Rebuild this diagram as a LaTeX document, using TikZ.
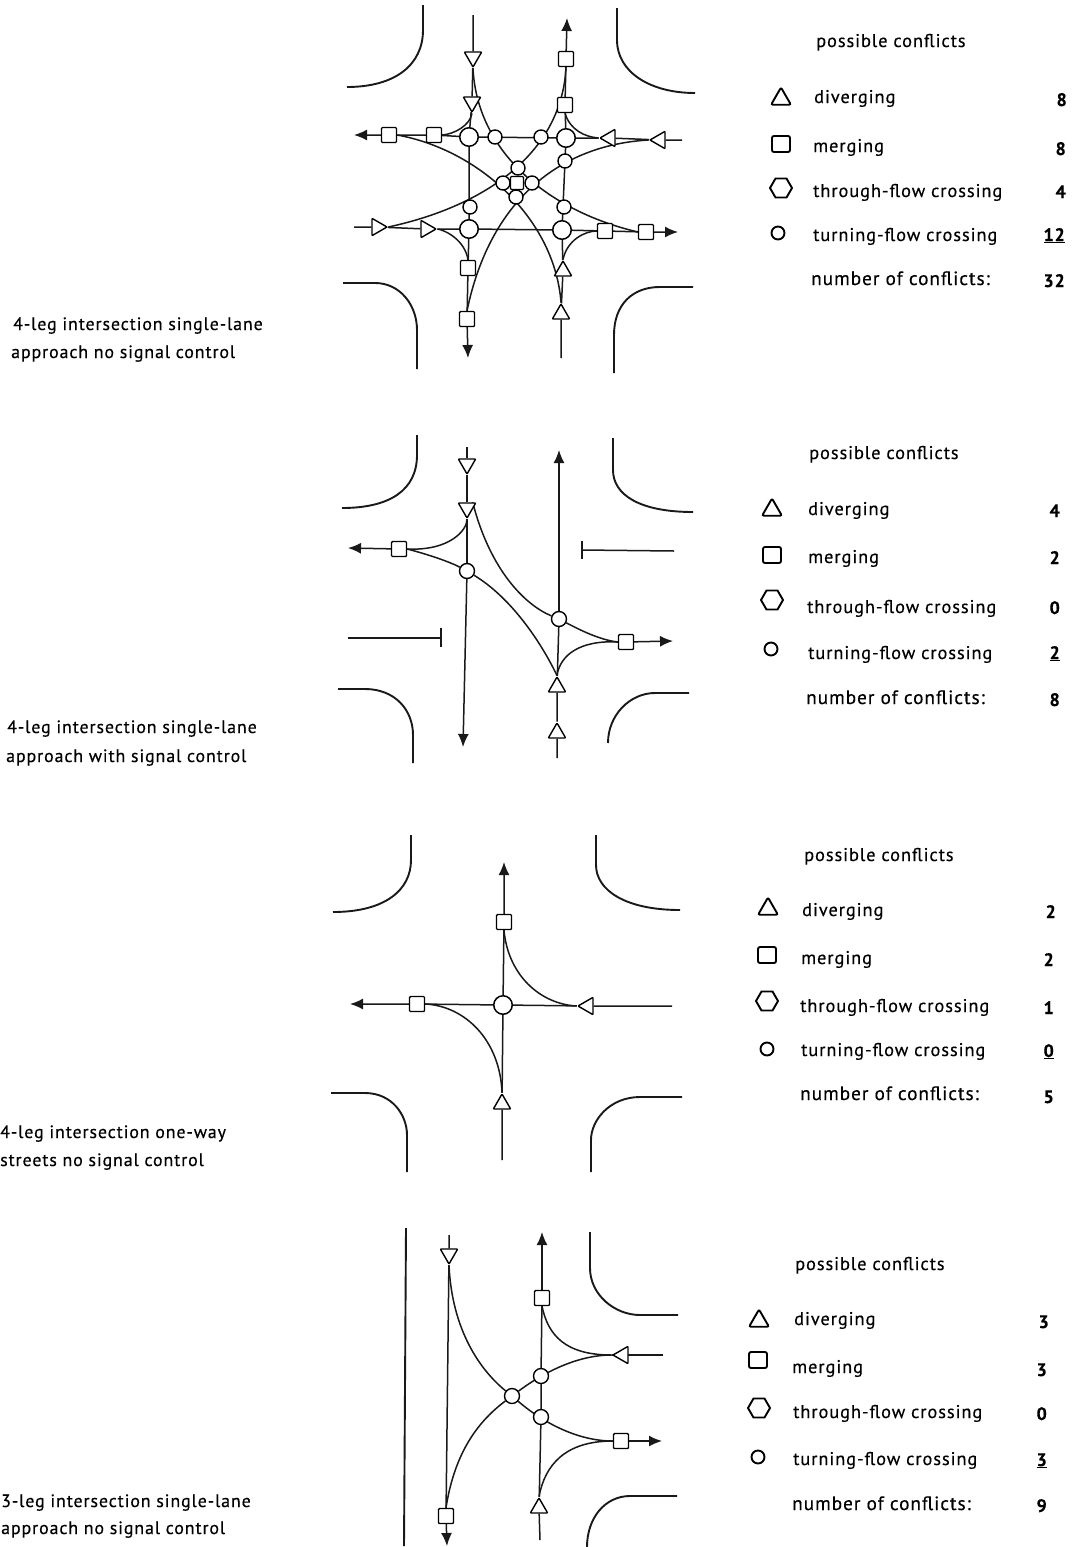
\documentclass[tikz,border=0pt]{standalone}
\usepackage{fontspec}
\setmainfont[LetterSpace=5,FakeBold=0.35]{PT Sans}
\usetikzlibrary{arrows.meta,shapes.geometric,backgrounds}
\tikzset{
 x=1pt,y=-1pt,
 road/.style={line width=1.9pt,black!90},
 flow/.style={line width=1.5pt,black!90},
 arr/.style={flow,-{Latex[length=13pt,width=11pt]}},
 cs/.style={circle,draw,fill=white,line width=1.4pt,minimum size=14pt,inner sep=0pt},
 cb/.style={circle,draw,fill=white,line width=1.5pt,minimum size=18.5pt,inner sep=0pt},
 sq/.style={rectangle,rounded corners=1pt,draw,fill=white,line width=1.4pt,minimum size=15pt,inner sep=0pt},
 tri/.style={regular polygon,regular polygon sides=3,draw,fill=white,line width=1.4pt,minimum size=20pt,inner sep=0pt,rounded corners=.8pt},
 tu/.style={tri},
 td/.style={tri,shape border rotate=180},
 tl/.style={tri,shape border rotate=90},
 tr/.style={tri,shape border rotate=270},
 ltri/.style={tri,minimum size=23pt,line width=1.9pt,rounded corners=2pt,fill=none},
 lsq/.style={rectangle,rounded corners=2pt,draw,line width=1.9pt,minimum width=18pt,minimum height=16pt,inner sep=0pt},
 lhex/.style={regular polygon,regular polygon sides=6,draw,line width=1.9pt,minimum size=22pt,inner sep=0pt},
 lcirc/.style={circle,draw,line width=1.9pt,minimum size=13pt,inner sep=0pt},
 txt/.style={anchor=base west,inner sep=0pt,font=\fontsize{18.4}{20}\selectfont},
 ntxt/.style={anchor=base west,inner sep=0pt,font=\fontsize{19.3}{20}\selectfont},
 captxt/.style={anchor=base west,inner sep=0pt,font=\fontsize{17.9}{20}\selectfont},
 num/.style={anchor=base east,inner sep=0pt,font=\fontsize{18}{20}\selectfont\bfseries},
}
\begin{document}
\begin{tikzpicture}
\useasboundingbox (0,0) rectangle (1079,1547);
\begin{scope}[on background layer]
\fill[white] (0,0) rectangle (1079,1547);
\end{scope}

% ---------- panel 1
\node[td] (a1) at (473,57) {}; \node[td] (a2) at (472,102) {};
\node[cb] (a3) at (469,137) {}; \node[cb] (a4) at (566,138) {};
\node[cb] (a5) at (469,229) {}; \node[cb] (a6) at (562,230) {};
\node[cs] (a7) at (495,137) {}; \node[cs] (a8) at (541,137) {};
\node[cs] (a9) at (565,161) {}; \node[cs] (a10) at (564,207) {};
\node[cs] (a11) at (470,207) {};
\node[sq,minimum size=13pt] (a12) at (517,183) {};
\node[cs] (a13) at (518,168) {}; \node[cs] (a14) at (503,183) {};
\node[cs] (a15) at (532,183) {}; \node[cs] (a16) at (516,197) {};
\node[sq] (a17) at (389,135) {}; \node[sq] (a18) at (434,135) {};
\node[sq] (a19) at (566,59) {}; \node[sq] (a20) at (565,105) {};
\node[sq] (a21) at (468,268) {}; \node[sq] (a22) at (467,319) {};
\node[sq] (a23) at (605,231) {}; \node[sq] (a24) at (646,232) {};
\node[tl] (a25) at (610,138) {}; \node[tl] (a26) at (660,140) {};
\node[tr] (a27) at (377,227) {}; \node[tr] (a28) at (426,229) {};
\node[tu] (a29) at (563,271) {}; \node[tu] (a30) at (561,314) {};
\coordinate (an) at (473,15); \coordinate (as) at (561,358);
\coordinate (ae) at (682,140); \coordinate (aw) at (354,227);
\coordinate (anx) at (567,18); \coordinate (asx) at (468,358);
\coordinate (aex) at (678,232); \coordinate (awx) at (354,135);
\begin{scope}[on background layer]
\draw[flow] (an) -- (a1) -- (a2) -- (a3) -- (a5);
\draw[flow] (as) -- (a30) -- (a29) -- (a6) -- (a4);
\draw[flow] (ae) -- (a26) -- (a25) -- (a4) -- (a3);
\draw[flow] (aw) -- (a27) -- (a28) -- (a5) -- (a6);
\draw[arr] (a5) -- (a21) -- (a22) -- (asx);
\draw[arr] (a4) -- (a20) -- (a19) -- (anx);
\draw[arr] (a6) -- (a23) -- (a24) -- (aex);
\draw[arr] (a3) -- (a18) -- (a17) -- (awx);
\draw[flow] (a1.south) .. controls (477,150) and (545,210) .. (a24.west);
\draw[flow] (a19.south) .. controls (562,150) and (490,205) .. (a27.east);
\draw[flow] (a26.west) .. controls (560,145) and (490,200) .. (a22.north);
\draw[flow] (a30.north) .. controls (555,220) and (480,150) .. (a17.east);
\draw[flow] (a2.south) .. controls (470,125) and (455,134) .. (a18.east);
\draw[flow] (a28.east) .. controls (445,230) and (465,240) .. (a21.north);
\draw[flow] (a29.north) .. controls (567,240) and (585,231) .. (a23.west);
\draw[flow] (a25.west) .. controls (585,137) and (570,130) .. (a20.south);
\end{scope}
\draw[road] (423,5) -- (423,30) .. controls (423,65) and (395,87) .. (347,87);
\draw[road] (617,8) -- (617,40) .. controls (617,72) and (650,93) .. (695,93);
\draw[road] (343,283) -- (375,283) .. controls (400,283) and (417,305) .. (417,330) -- (417,369);
\draw[road] (693,287) -- (660,287) .. controls (632,287) and (614,305) .. (614,335) -- (614,373);

% ---------- panel 2
\node[td] (b1) at (467,464) {}; \node[td] (b2) at (467,508) {};
\node[cs,minimum size=15pt] (b3) at (467,571) {}; \node[cs,minimum size=15pt] (b4) at (559,619) {};
\node[sq] (b5) at (399,549) {}; \node[sq] (b6) at (626,642) {};
\node[tu] (b7) at (557,733) {}; \node[tu] (b8) at (557,687) {};
\coordinate (bn) at (467,447); \coordinate (bsx) at (463,747);
\coordinate (bs) at (557,758); \coordinate (bnx) at (559,450);
\coordinate (bwx) at (348,548); \coordinate (bex) at (673,641);
\begin{scope}[on background layer]
\draw[flow] (bn) -- (b1) -- (b2) -- (b3);
\draw[arr] (b3) -- (bsx);
\draw[flow] (bs) -- (b7) -- (b8) -- (b4);
\draw[arr] (b4) -- (bnx);
\draw[arr] (b5) -- (bwx);
\draw[arr] (b6) -- (bex);
\draw[flow] (b2.south) .. controls (467,530) and (450,551) .. (b5.east);
\draw[flow] (b5.east) .. controls (430,555) and (450,562) .. (b3);
\draw[flow] (b3) .. controls (510,597) and (540,640) .. (b8.north);
\draw[flow] (b2.north east) .. controls (490,570) and (525,605) .. (b4);
\draw[flow] (b4) .. controls (580,630) and (600,640) .. (b6.west);
\draw[flow] (b8.north) .. controls (560,655) and (580,640) .. (b6.west);
\end{scope}
\coordinate (bs1) at (582,550); \coordinate (bs2) at (674,551);
\coordinate (bs3) at (348,638); \coordinate (bs4) at (441,638);
\coordinate (bt1) at (582,541); \coordinate (bt2) at (582,559);
\coordinate (bt3) at (441,628); \coordinate (bt4) at (441,647);
\draw[flow] (bs2) -- (bs1);
\draw[flow] (bt1) -- (bt2);
\draw[flow] (bs3) -- (bs4);
\draw[flow] (bt3) -- (bt4);
\draw[road] (417,435) -- (417,455) .. controls (417,490) and (390,508) .. (342,508);
\draw[road] (613,438) -- (613,470) .. controls (613,495) and (640,512) .. (693,512);
\draw[road] (338,689) -- (365,689) .. controls (395,689) and (413,710) .. (413,735) -- (413,763);
\draw[road] (689,693) -- (655,693) .. controls (630,693) and (608,715) .. (608,743);

% ---------- panel 3
\node[cb] (c1) at (503,1005) {};
\node[sq] (c2) at (504,922) {}; \node[sq] (c3) at (417,1004) {};
\node[tu] (c4) at (502,1104) {}; \node[tl] (c5) at (588,1006) {};
\coordinate (cs0) at (502,1160); \coordinate (cnx) at (504,862);
\coordinate (ce0) at (672,1006); \coordinate (cwx) at (350,1004);
\begin{scope}[on background layer]
\draw[flow] (cs0) -- (c4) -- (c1);
\draw[arr] (c1) -- (c2) -- (cnx);
\draw[flow] (ce0) -- (c5) -- (c1);
\draw[arr] (c1) -- (c3) -- (cwx);
\draw[flow] (c2.south) .. controls (508,975) and (540,1004) .. (c5.west);
\draw[flow] (c3.east) .. controls (465,1006) and (500,1040) .. (c4.north);
\end{scope}
\draw[road] (411,835) -- (411,860) .. controls (411,890) and (385,912) .. (333,912);
\draw[road] (596,835) -- (596,865) .. controls (596,890) and (625,910) .. (680,910);
\draw[road] (331,1093) -- (365,1093) .. controls (392,1093) and (407,1115) .. (407,1135) -- (407,1172);
\draw[road] (682,1097) -- (640,1097) .. controls (610,1097) and (591,1120) .. (591,1140) -- (591,1172);

% ---------- panel 4
\node[td] (d1) at (449,1254) {}; \node[sq] (d2) at (446,1516) {};
\node[tu] (d3) at (539,1508) {}; \node[sq] (d4) at (542,1298) {};
\node[cs,minimum size=15pt] (d5) at (541,1376) {}; \node[cs,minimum size=15pt] (d6) at (541,1417) {};
\node[cs,minimum size=15pt] (d7) at (512,1396) {};
\node[tl] (d8) at (623,1355) {}; \node[sq] (d9) at (621,1441) {};
\coordinate (dn) at (449,1235); \coordinate (dsx) at (447,1546);
\coordinate (ds) at (540,1540); \coordinate (dnx) at (542,1232);
\coordinate (de) at (663,1355); \coordinate (dex) at (662,1441);
\begin{scope}[on background layer]
\draw[flow] (dn) -- (d1) -- (d2);
\draw[arr] (d2) -- (dsx);
\draw[flow] (ds) -- (d3) -- (d6) -- (d5) -- (d4);
\draw[arr] (d4) -- (dnx);
\draw[flow] (de) -- (d8.west);
\draw[arr] (d9) -- (dex);
\draw[flow] (d1.south) .. controls (452,1330) and (480,1370) .. (d7);
\draw[flow] (d7) .. controls (540,1420) and (575,1441) .. (d9.west);
\draw[flow] (d2.north) .. controls (455,1450) and (480,1420) .. (d7);
\draw[flow] (d7) .. controls (540,1375) and (575,1355) .. (d8.west);
\draw[flow] (d4.south) .. controls (548,1335) and (565,1355) .. (d8.west);
\draw[flow] (d3.north) .. controls (545,1465) and (565,1441) .. (d9.west);
\end{scope}
\draw[road] (406,1228) -- (404,1546);
\draw[road] (590,1232) -- (590,1268) .. controls (590,1295) and (615,1315) .. (640,1315) -- (678,1315);
\draw[road] (677,1496) -- (630,1496) .. controls (605,1496) and (587,1518) .. (587,1547);

% ---------- tables
\node[txt] (ph1) at (816,47) {possible conflicts};
\node[ltri] (li1) at (781,99) {}; \node[txt] (ld1) at (814,103) {diverging}; \node[num] (ln1) at (1067,106) {8};
\node[lsq] (li2) at (781,144) {}; \node[txt] (lm1) at (813,152) {merging}; \node[num] (lo1) at (1066,155) {8};
\node[lhex] (li3) at (781,188) {}; \node[txt] (lt1) at (813,197) {through-flow crossing}; \node[num] (lp1) at (1066,198) {4};
\node[lcirc] (li4) at (778,233) {}; \node[txt] (lu1) at (813,241) {turning-flow crossing}; \node[num] (lq1) at (1065,241) {\underline{12}};
\node[ntxt] (lv1) at (811,285) {number of conflicts:}; \node[num] (lr1) at (1065,287) {32};

\node[txt] (ph2) at (809,459) {possible conflicts};
\node[ltri] (li5) at (772,510) {}; \node[txt] (ld2) at (808,515) {diverging}; \node[num] (ln2) at (1060,517) {4};
\node[lsq] (li6) at (772,555) {}; \node[txt] (lm2) at (808,563) {merging}; \node[num] (lo2) at (1060,564) {2};
\node[lhex] (li7) at (772,600) {}; \node[txt] (lt2) at (807,613) {through-flow crossing}; \node[num] (lp2) at (1060,614) {0};
\node[lcirc] (li8) at (771,649) {}; \node[txt] (lu2) at (808,659) {turning-flow crossing}; \node[num] (lq2) at (1060,659) {\underline{2}};
\node[ntxt] (lv2) at (806,704) {number of conflicts:}; \node[num] (lr2) at (1060,706) {8};

\node[txt] (ph3) at (804,861) {possible conflicts};
\node[ltri] (li9) at (768,909) {}; \node[txt] (ld3) at (802,916) {diverging}; \node[num] (ln3) at (1056,918) {2};
\node[lsq] (li10) at (767,955) {}; \node[txt] (lm3) at (801,964) {merging}; \node[num] (lo3) at (1054,966) {2};
\node[lhex] (li11) at (767,1001) {}; \node[txt] (lt3) at (800,1012) {through-flow crossing}; \node[num] (lp3) at (1054,1014) {1};
\node[lcirc] (li12) at (767,1049) {}; \node[txt] (lu3) at (801,1056) {turning-flow crossing}; \node[num] (lq3) at (1054,1057) {\underline{0}};
\node[ntxt] (lv3) at (800,1100) {number of conflicts:}; \node[num] (lr3) at (1054,1103) {5};

\node[txt] (ph4) at (795,1270) {possible conflicts};
\node[ltri] (li13) at (759,1321) {}; \node[txt] (ld4) at (794,1325) {diverging}; \node[num] (ln4) at (1049,1328) {3};
\node[lsq] (li14) at (758,1360) {}; \node[txt] (lm4) at (792,1373) {merging}; \node[num] (lo4) at (1047,1376) {3};
\node[lhex] (li15) at (759,1408) {}; \node[txt] (lt4) at (793,1418) {through-flow crossing}; \node[num] (lp4) at (1047,1420) {0};
\node[lcirc] (li16) at (758,1457) {}; \node[txt] (lu4) at (793,1465) {turning-flow crossing}; \node[num] (lq4) at (1047,1466) {\underline{3}};
\node[ntxt] (lv4) at (792,1510) {number of conflicts:}; \node[num] (lr4) at (1047,1512) {9};

% ---------- side captions
\node[captxt] (s1a) at (13,330) {4-leg intersection single-lane};
\node[captxt] (s1b) at (11,358) {approach no signal control};
\node[captxt] (s2a) at (7,733) {4-leg intersection single-lane};
\node[captxt] (s2b) at (6,762) {approach with signal control};
\node[captxt] (s3a) at (0,1138) {4-leg intersection one-way};
\node[captxt] (s3b) at (0,1166) {streets no signal control};
\node[captxt] (s4a) at (1,1507) {3-leg intersection single-lane};
\node[captxt] (s4b) at (1,1534) {approach no signal control};
\end{tikzpicture}
\end{document}
